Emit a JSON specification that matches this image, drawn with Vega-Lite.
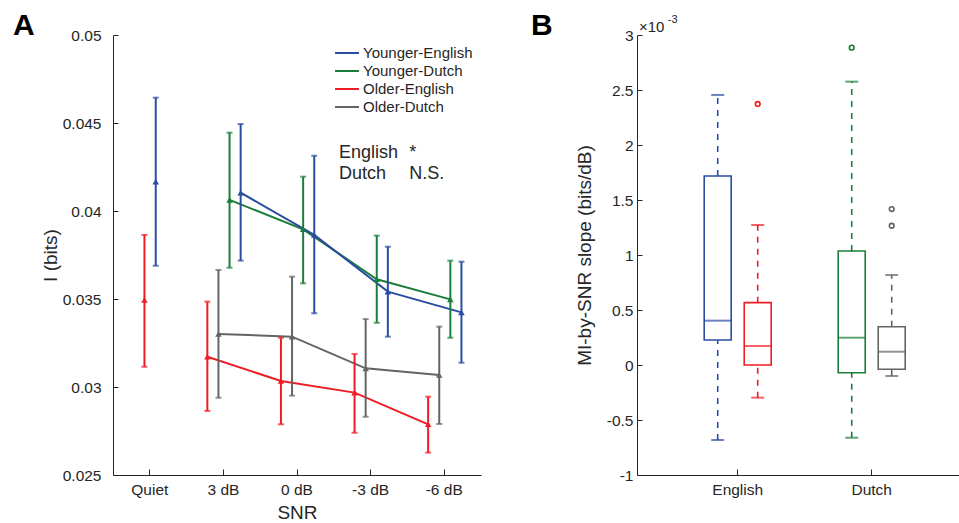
{
  "$schema": "https://vega.github.io/schema/vega-lite/v6.json",
  "padding": {"left": 12, "top": 11, "right": 0, "bottom": 0},
  "spacing": 50,
  "datasets": {
    "info": [
      {"snr": "Quiet", "group": "Older-English", "mean": 0.03494, "lo": 0.03115, "hi": 0.03864},
      {"snr": "Quiet", "group": "Younger-English", "mean": 0.04167, "lo": 0.03689, "hi": 0.04644},
      {"snr": "3 dB", "group": "Older-English", "mean": 0.03172, "lo": 0.02864, "hi": 0.03485},
      {"snr": "3 dB", "group": "Older-Dutch", "mean": 0.03301, "lo": 0.02939, "hi": 0.03665},
      {"snr": "3 dB", "group": "Younger-Dutch", "mean": 0.04063, "lo": 0.03678, "hi": 0.04445},
      {"snr": "3 dB", "group": "Younger-English", "mean": 0.04104, "lo": 0.03718, "hi": 0.04494},
      {"snr": "0 dB", "group": "Older-English", "mean": 0.03034, "lo": 0.02788, "hi": 0.03280},
      {"snr": "0 dB", "group": "Older-Dutch", "mean": 0.03286, "lo": 0.02951, "hi": 0.03627},
      {"snr": "0 dB", "group": "Younger-Dutch", "mean": 0.03896, "lo": 0.03589, "hi": 0.04195},
      {"snr": "0 dB", "group": "Younger-English", "mean": 0.03864, "lo": 0.03419, "hi": 0.04314},
      {"snr": "-3 dB", "group": "Older-English", "mean": 0.02968, "lo": 0.02740, "hi": 0.03188},
      {"snr": "-3 dB", "group": "Older-Dutch", "mean": 0.03106, "lo": 0.02831, "hi": 0.03386},
      {"snr": "-3 dB", "group": "Younger-Dutch", "mean": 0.03612, "lo": 0.03365, "hi": 0.03860},
      {"snr": "-3 dB", "group": "Younger-English", "mean": 0.03542, "lo": 0.03286, "hi": 0.03797},
      {"snr": "-6 dB", "group": "Older-English", "mean": 0.02788, "lo": 0.02627, "hi": 0.02945},
      {"snr": "-6 dB", "group": "Older-Dutch", "mean": 0.03068, "lo": 0.02790, "hi": 0.03343},
      {"snr": "-6 dB", "group": "Younger-Dutch", "mean": 0.03498, "lo": 0.03280, "hi": 0.03718},
      {"snr": "-6 dB", "group": "Younger-English", "mean": 0.03424, "lo": 0.03138, "hi": 0.03712}
    ],
    "boxes": [
      {"language": "English", "age": "Younger", "group": "Younger-English", "lower": -0.682, "q1": 0.227, "median": 0.403, "q3": 1.718, "upper": 2.455},
      {"language": "English", "age": "Older", "group": "Older-English", "lower": -0.297, "q1": 0.0, "median": 0.173, "q3": 0.567, "upper": 1.273},
      {"language": "Dutch", "age": "Younger", "group": "Younger-Dutch", "lower": -0.661, "q1": -0.07, "median": 0.248, "q3": 1.036, "upper": 2.576},
      {"language": "Dutch", "age": "Older", "group": "Older-Dutch", "lower": -0.1, "q1": -0.039, "median": 0.121, "q3": 0.348, "upper": 0.818}
    ],
    "outliers": [
      {"language": "English", "age": "Older", "group": "Older-English", "slope": 2.373},
      {"language": "Dutch", "age": "Younger", "group": "Younger-Dutch", "slope": 2.885},
      {"language": "Dutch", "age": "Older", "group": "Older-Dutch", "slope": 1.418},
      {"language": "Dutch", "age": "Older", "group": "Older-Dutch", "slope": 1.266}
    ]
  },
  "hconcat": [
    {
      "width": 368,
      "height": 440,
      "resolve": {"scale": {"xOffset": "independent"}, "legend": {"color": "independent"}},
      "layer": [
        {
          "data": {"name": "info"},
          "transform": [{"filter": "datum.snr === 'Quiet'"}],
          "encoding": {
            "x": {"field": "snr", "type": "ordinal", "scale": {"domain": ["Quiet", "3 dB", "0 dB", "-3 dB", "-6 dB"], "paddingInner": 0, "paddingOuter": 0}, "title": "SNR"},
            "xOffset": {"field": "group", "type": "nominal", "scale": {"domain": ["Older-English", "Younger-English"], "range": [25.8, 48.4], "paddingInner": 0, "paddingOuter": 0}},
            "color": {"field": "group", "type": "nominal", "scale": {"domain": ["Younger-English", "Younger-Dutch", "Older-English", "Older-Dutch"], "range": ["#2A4CA1", "#1B7D3A", "#EE1C25", "#646464"]}, "legend": null}
          },
          "layer": [
            {"mark": {"type": "rule", "strokeWidth": 2}, "encoding": {"y": {"field": "lo", "type": "quantitative"}, "y2": {"field": "hi"}}},
            {"mark": {"type": "tick", "size": 6, "thickness": 2}, "encoding": {"y": {"field": "lo", "type": "quantitative"}}},
            {"mark": {"type": "tick", "size": 6, "thickness": 2}, "encoding": {"y": {"field": "hi", "type": "quantitative"}}},
            {"mark": {"type": "point", "shape": "triangle-up", "filled": true, "size": 42, "opacity": 1}, "encoding": {"y": {"field": "mean", "type": "quantitative"}}}
          ]
        },
        {
          "data": {"name": "info"},
          "transform": [{"filter": "datum.snr !== 'Quiet'"}],
          "resolve": {"legend": {"color": "independent"}},
          "encoding": {
            "x": {"field": "snr", "type": "ordinal", "title": "SNR"},
            "xOffset": {"field": "group", "type": "nominal", "scale": {"domain": ["Older-English", "Older-Dutch", "Younger-Dutch", "Younger-English"], "range": [15.2, 59.6], "paddingInner": 0, "paddingOuter": 0}}
          },
          "layer": [
            {"mark": {"type": "line", "strokeWidth": 2}, "encoding": {"y": {"field": "mean", "type": "quantitative"}, "order": {"value": null},
              "color": {"field": "group", "type": "nominal",
                "legend": {"title": null, "orient": "none", "legendX": 224, "legendY": 8, "symbolType": "M-1.33,0H1.33", "symbolSize": 324, "symbolStrokeWidth": 2, "labelFontSize": 15, "labelOffset": 6, "rowPadding": 0, "padding": 0, "labelColor": "#262626", "labelFont": "Liberation Sans"}}}},
            {"mark": {"type": "rule", "strokeWidth": 2}, "encoding": {"y": {"field": "lo", "type": "quantitative"}, "y2": {"field": "hi"}, "color": {"field": "group", "type": "nominal", "legend": null}}},
            {"mark": {"type": "tick", "size": 6, "thickness": 2}, "encoding": {"y": {"field": "lo", "type": "quantitative"}, "color": {"field": "group", "type": "nominal", "legend": null}}},
            {"mark": {"type": "tick", "size": 6, "thickness": 2}, "encoding": {"y": {"field": "hi", "type": "quantitative"}, "color": {"field": "group", "type": "nominal", "legend": null}}},
            {"mark": {"type": "point", "shape": "triangle-up", "filled": true, "size": 42, "opacity": 1}, "encoding": {"color": {"field": "group", "type": "nominal", "legend": null}, "y": {"field": "mean", "type": "quantitative", "scale": {"domain": [0.025, 0.05], "nice": false, "zero": false}, "title": "I (bits)", "axis": {"values": [0.025, 0.03, 0.035, 0.04, 0.045, 0.05], "format": "~g", "tickSize": -5, "labelPadding": 17, "titlePadding": 2}}}}
          ]
        },
        {
          "data": {"values": [{}]},
          "mark": {"type": "text", "text": ["English", "Dutch"], "align": "left", "baseline": "alphabetic", "fontSize": 18, "lineHeight": 21, "dx": -31.6, "color": "#262626"},
          "encoding": {"x": {"datum": "-3 dB", "type": "ordinal"}, "y": {"datum": 0.04301, "type": "quantitative"}}
        },
        {
          "data": {"values": [{}]},
          "mark": {"type": "text", "text": ["*", "N.S."], "align": "left", "baseline": "alphabetic", "fontSize": 18, "lineHeight": 21, "dx": -35, "color": "#262626"},
          "encoding": {"x": {"datum": "-6 dB", "type": "ordinal"}, "y": {"datum": 0.04301, "type": "quantitative"}}
        },
        {
          "data": {"values": [{}]},
          "mark": {"type": "text", "text": "A", "align": "left", "baseline": "alphabetic", "fontSize": 30, "fontWeight": "bold", "dx": -136.8, "color": "black"},
          "encoding": {"x": {"datum": "Quiet", "type": "ordinal"}, "y": {"datum": 0.05, "type": "quantitative"}}
        }
      ]
    },
    {
      "width": 323,
      "height": 440,
      "layer": [
        {
          "data": {"name": "boxes"},
          "encoding": {
            "x": {"field": "language", "type": "nominal", "scale": {"domain": ["English", "Dutch"], "paddingInner": 0, "paddingOuter": 0.2052, "align": 0.613}, "title": null},
            "xOffset": {"field": "age", "type": "nominal", "scale": {"domain": ["Younger", "Older"], "paddingInner": 0.325, "paddingOuter": 0.8375}},
            "color": {"field": "group", "type": "nominal", "scale": {"domain": ["Younger-English", "Younger-Dutch", "Older-English", "Older-Dutch"], "range": ["#2A4CA1", "#1B7D3A", "#EE1C25", "#646464"]}, "legend": null}
          },
          "layer": [
            {"mark": {"type": "rule", "strokeWidth": 1.6, "strokeDash": [6, 6]}, "encoding": {"y": {"field": "q3", "type": "quantitative", "scale": {"domain": [-1, 3], "nice": false, "zero": false}, "title": "MI-by-SNR slope (bits/dB)", "axis": {"values": [-1, -0.5, 0, 0.5, 1, 1.5, 2, 2.5, 3], "format": "~g", "labelExpr": "replace(datum.label, '\u2212', '-')", "tickSize": -5, "labelPadding": 9, "titlePadding": 12}}, "y2": {"field": "upper"}}},
            {"mark": {"type": "rule", "strokeWidth": 1.6, "strokeDash": [6, 6]}, "encoding": {"y": {"field": "lower", "type": "quantitative"}, "y2": {"field": "q1"}}},
            {"mark": {"type": "bar", "filled": false, "strokeWidth": 1.6}, "encoding": {"y": {"field": "q1", "type": "quantitative"}, "y2": {"field": "q3"}}},
            {"mark": {"type": "tick", "size": 27, "thickness": 2}, "encoding": {"y": {"field": "median", "type": "quantitative"}}},
            {"mark": {"type": "tick", "size": 13, "thickness": 2}, "encoding": {"y": {"field": "upper", "type": "quantitative"}}},
            {"mark": {"type": "tick", "size": 13, "thickness": 2}, "encoding": {"y": {"field": "lower", "type": "quantitative"}}}
          ]
        },
        {
          "data": {"name": "outliers"},
          "mark": {"type": "point", "shape": "circle", "filled": false, "size": 22, "strokeWidth": 1.6, "opacity": 1},
          "encoding": {
            "x": {"field": "language", "type": "nominal"},
            "xOffset": {"field": "age", "type": "nominal"},
            "y": {"field": "slope", "type": "quantitative"},
            "color": {"field": "group", "type": "nominal", "legend": null}
          }
        },
        {
          "data": {"values": [{}]},
          "mark": {"type": "text", "text": "×10", "align": "left", "baseline": "alphabetic", "fontSize": 15, "dx": -98.7, "dy": -3, "color": "#262626"},
          "encoding": {"x": {"datum": "English", "type": "nominal"}, "y": {"datum": 3, "type": "quantitative"}}
        },
        {
          "data": {"values": [{}]},
          "mark": {"type": "text", "text": "-3", "align": "left", "baseline": "alphabetic", "fontSize": 11, "dx": -70, "dy": -12, "color": "#262626"},
          "encoding": {"x": {"datum": "English", "type": "nominal"}, "y": {"datum": 3, "type": "quantitative"}}
        },
        {
          "data": {"values": [{}]},
          "mark": {"type": "text", "text": "B", "align": "left", "baseline": "alphabetic", "fontSize": 30, "fontWeight": "bold", "dx": -206.7, "color": "black"},
          "encoding": {"x": {"datum": "English", "type": "nominal"}, "y": {"datum": 3, "type": "quantitative"}}
        }
      ]
    }
  ],
  "config": {
    "font": "Liberation Sans",
    "view": {"stroke": null},
    "axis": {"grid": false, "domainColor": "#262626", "tickColor": "#262626", "labelColor": "#262626", "titleColor": "#262626", "labelFont": "Liberation Sans", "titleFont": "Liberation Sans", "labelFontSize": 15.5, "titleFontSize": 19, "titleFontWeight": "normal", "domainWidth": 1, "tickWidth": 1},
    "axisX": {"labelAngle": 0, "tickSize": -6, "labelPadding": 13, "titlePadding": 6}
  }
}
